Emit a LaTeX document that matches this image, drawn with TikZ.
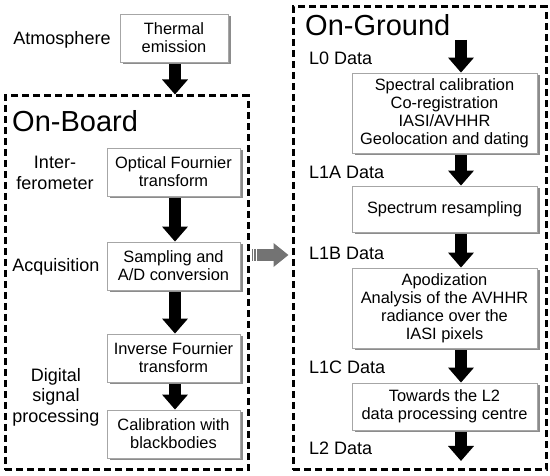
\documentclass[tikz,border=0pt]{standalone}
\usepackage{fontspec}
\setmainfont{Liberation Sans}
\usetikzlibrary{arrows.meta,positioning,shadows,calc}

\begin{document}
\begin{tikzpicture}[x=1pt,y=-1pt,
    stage/.style={draw=black!35, line width=0.8pt, fill=white, align=center, inner sep=2pt,
      font=\fontsize{16.4}{18}\selectfont,
      drop shadow={shadow xshift=2.5pt, shadow yshift=-2.5pt, fill=black!45, opacity=1}},
    lbox/.style={minimum width=133pt, minimum height=48pt},
    rbox/.style={minimum width=185pt},
    side/.style={align=center, inner sep=0pt, font=\fontsize{18}{20.5}\selectfont},
    title/.style={anchor=west, inner sep=0pt, font=\fontsize{29}{34}\selectfont},
    frame/.style={draw, line width=3pt, dash pattern=on 7pt off 4pt, inner sep=0pt},
    flow/.style={line width=12pt, -{Triangle[width=25pt,length=15pt]}},
    handoff/.style={line width=12pt, draw=black!55, -{Triangle[width=23pt,length=15pt]}}]
  \useasboundingbox (0,0) rectangle (550,476);
  \node[frame, minimum width=243pt, minimum height=374pt] (onboard) at (126.5,283) {};
  \node[frame, minimum width=253pt, minimum height=463pt] (onground) at (419.5,238.5) {};
  \node[title] (obtitle) at (12,121) {On-Board};
  \node[title] (ogtitle) at (305,25) {On-Ground};

  \node[stage, minimum width=108pt, minimum height=48pt] (thermal) at (174,38) {Thermal\\emission};
  \node[side] (atmo) at (62,40) {Atmosphere};
  \node[stage, lbox] (optical) at (173.5,172) {Optical Fournier\\transform};
  \node[stage, lbox] (sampling) at (173.5,266) {Sampling and\\A/D conversion};
  \node[stage, lbox] (inverse) at (173.5,358) {Inverse Fournier\\transform};
  \node[stage, lbox] (calib) at (173.5,434) {Calibration with\\blackbodies};
  \node[side] (interf) at (55,173) {Inter-\\ferometer};
  \node[side] (acq) at (56,267) {Acquisition};
  \node[side] (dsp) at (56,397) {Digital\\signal\\processing};

  \coordinate (lcol) at (175,0);
  \draw[flow, shorten <=2pt] (thermal.south -| lcol) -- (onboard.north -| lcol);
  \draw[flow, shorten <=2pt] (optical.south -| lcol) -- (sampling.north -| lcol);
  \draw[flow, shorten <=2pt] (sampling.south -| lcol) -- (inverse.north -| lcol);
  \draw[flow, shorten <=2pt] (inverse.south -| lcol) -- (calib.north -| lcol);

  \node[stage, rbox, minimum height=80pt] (spectral) at (444.5,113)
    {Spectral calibration\\Co-registration\\IASI/AVHHR\\Geolocation and dating};
  \node[stage, rbox, minimum height=46pt] (resampling) at (444.5,209) {Spectrum resampling};
  \node[stage, rbox, minimum height=80pt] (apodization) at (444.5,308)
    {Apodization\\Analysis of the AVHHR\\radiance over the\\IASI pixels};
  \node[stage, rbox, minimum height=47pt] (towards) at (444.5,406.5)
    {Towards the L2\\data processing centre};
  \node[side, anchor=west] (lzero) at (309,58) {L0 Data};
  \node[side, anchor=west] (lonea) at (309,172) {L1A Data};
  \node[side, anchor=west] (loneb) at (309,253) {L1B Data};
  \node[side, anchor=west] (lonec) at (309,367) {L1C Data};
  \node[side, anchor=west] (ltwo) at (309,448) {L2 Data};

  \coordinate (rcol) at (461,0);
  \coordinate (ltop) at (461,40);
  \coordinate (lend) at (461,461);
  \draw[flow] (ltop) -- (spectral.north -| rcol);
  \draw[flow, shorten <=2pt] (spectral.south -| rcol) -- (resampling.north -| rcol);
  \draw[flow, shorten <=2pt] (resampling.south -| rcol) -- (apodization.north -| rcol);
  \draw[flow, shorten <=2pt] (apodization.south -| rcol) -- (towards.north -| rcol);
  \draw[flow, shorten <=2pt] (towards.south -| rcol) -- (lend);

  \coordinate (handover) at (257,255);
  \draw[handoff, shorten >=3pt] (handover) -- (handover -| onground.west);
  \draw[black!55, line width=1.2pt] ([xshift=-4.5pt]handover) ++(0,-6) -- ++(0,12);
  \draw[black!55, line width=1.2pt] ([xshift=-2pt]handover) ++(0,-6) -- ++(0,12);
\end{tikzpicture}
\end{document}
